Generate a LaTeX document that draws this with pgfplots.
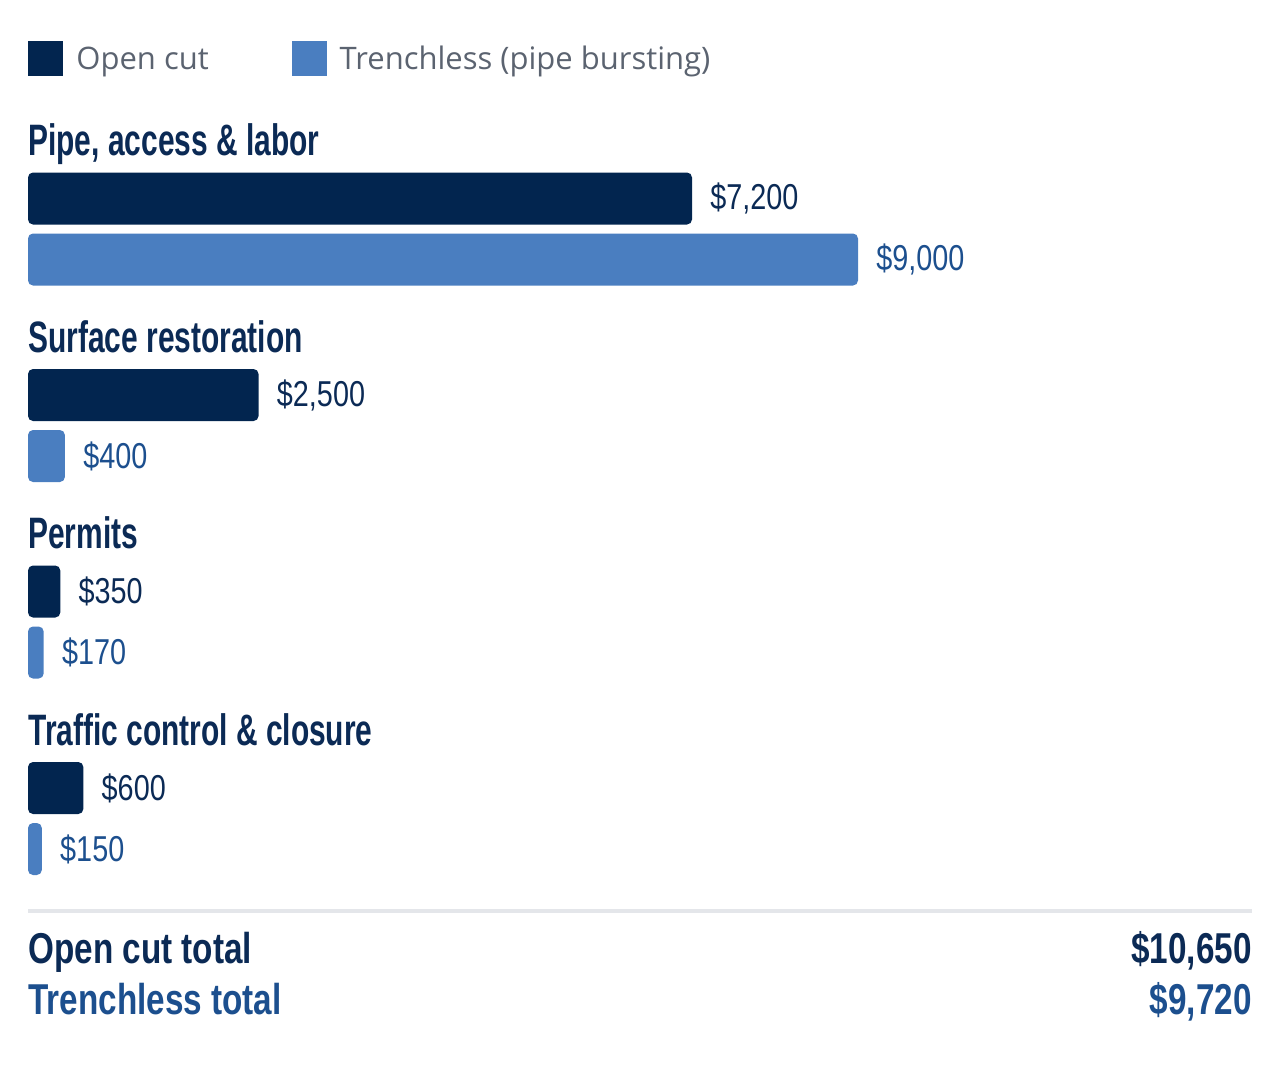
\documentclass[border=0pt]{standalone}
\usepackage{fontspec}
\setmainfont{Open Sans}
\newfontfamily\condtitle{Liberation Sans}[FakeStretch=0.68]
\newfontfamily\condtot{Liberation Sans}[FakeStretch=0.77]
\newfontfamily\condval{Liberation Sans}[FakeStretch=0.8]
\usepackage{pgfplots}
\pgfplotsset{compat=1.18}

\definecolor{navybar}{HTML}{02254F}
\definecolor{bluebar}{HTML}{4A7EC0}
\definecolor{navytext}{HTML}{0B2A55}
\definecolor{bluetext}{HTML}{1C4F8E}
\definecolor{legendgray}{HTML}{5B6370}
\definecolor{sepgray}{HTML}{E4E6EA}

\newcommand{\legtext}[1]{\raisebox{5pt}[11pt][3.5pt]{#1}}

\pgfplotsset{
  boxlegend/.style={legend image code/.code={%
    \fill[##1,draw=none,sharp corners] (0pt,-3pt) rectangle (17.5pt,14.5pt);}},
  catbar/.style={xbar, bar shift=0pt, bar width=52, draw=none,
    rounded corners=2.5pt, boxlegend,
    point meta=explicit symbolic, nodes near coords,
    every node near coord/.append style={anchor=west, inner sep=0pt,
      xshift=9pt, font=\condval\fontsize{18}{20}\selectfont}},
}

\begin{document}
\begin{tikzpicture}
\useasboundingbox (0,0) rectangle (640pt,542pt);
\begin{axis}[
  at={(0,0)}, anchor=south west,
  scale only axis, width=640pt, height=542pt,
  xmin=-303.614, xmax=13575.9,
  ymin=0, ymax=1084, y dir=reverse,
  hide axis, clip=false,
  legend style={at={(0.021875,0.96218)}, anchor=north west,
    draw=none, fill=none, inner sep=0pt, text=legendgray,
    font=\fontsize{15.5}{18}\selectfont,
    nodes={inner sep=0pt},
    /tikz/every odd column/.append style={column sep=6.5pt},
    /tikz/every even column/.append style={column sep=41.5pt}},
  legend columns=2,
]

% open cut
\addplot[catbar, fill=navybar,
  every node near coord/.append style={text=navytext}]
  coordinates {(7200,198.5) [\$7,200] (2500,395) [\$2,500]
               (350,591.5) [\$350] (600,788) [\$600]};
\addlegendentry{\legtext{Open cut}}

% trenchless
\addplot[catbar, fill=bluebar,
  every node near coord/.append style={text=bluetext}]
  coordinates {(9000,259.5) [\$9,000] (400,456) [\$400]
               (170,652.5) [\$170] (150,849) [\$150]};
\addlegendentry{\legtext{Trenchless (pipe bursting)}}

% category titles
\begin{scope}[every node/.style={anchor=base west, inner sep=0pt, text=navytext,
    font=\condtitle\bfseries\fontsize{22}{26}\selectfont}]
\node at (axis cs:0,155) {Pipe, access \& labor};
\node at (axis cs:0,352) {Surface restoration};
\node at (axis cs:0,548) {Permits};
\node at (axis cs:0,745) {Traffic control \& closure};
\end{scope}

\draw[sepgray, line width=2pt] (axis cs:0,911) -- (axis cs:13272,911);

% totals
\begin{scope}[every node/.style={inner sep=0pt,
    font=\condtot\bfseries\fontsize{21.6}{24}\selectfont}]
\node[anchor=base west, text=navytext] at (axis cs:0,963) {Open cut total};
\node[anchor=base east, text=navytext] at (axis cs:13272,963) {\$10,650};
\node[anchor=base west, text=bluetext] at (axis cs:0,1014) {Trenchless total};
\node[anchor=base east, text=bluetext] at (axis cs:13272,1014) {\$9,720};
\end{scope}

\end{axis}
\end{tikzpicture}
\end{document}
